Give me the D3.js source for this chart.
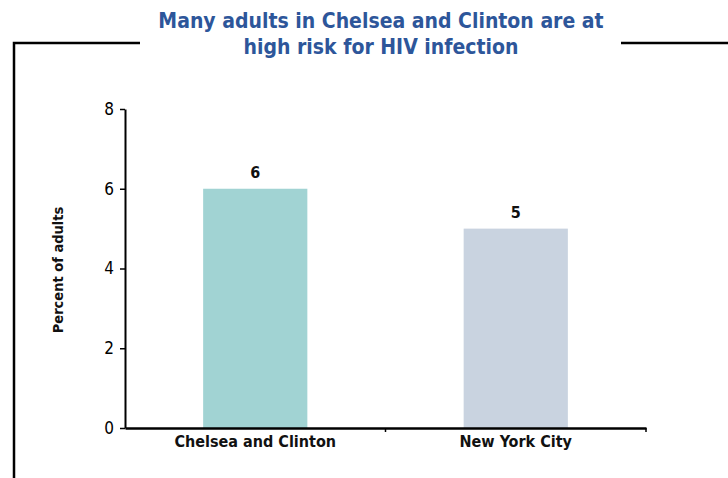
<!DOCTYPE html>
<html>
<head>
<meta charset="utf-8">
<script src="https://cdn.jsdelivr.net/npm/d3@7/dist/d3.min.js"></script>
<style>
  html, body { margin: 0; padding: 0; background: #fff; }
  svg { display: block; }
</style>
</head>
<body>
<svg id="chart" width="728" height="478"></svg>
<script>
const categories = ["Chelsea and Clinton", "New York City"];
const values = [6, 5];
const barColors = ["#A1D3D3", "#C9D3E0"];
const yTicks = [0, 2, 4, 6, 8];
const titleLines = ["Many adults in Chelsea and Clinton are at", "high risk for HIV infection"];

const svg = d3.select("#chart");
const font = "'DejaVu Sans Condensed', 'DejaVu Sans', sans-serif";

// Frame around the chart with a gap for the title
const frame = svg.append("g").attr("stroke", "#000").attr("stroke-width", 2.5).attr("fill", "none");
frame.append("path").attr("d", "M14,478 V43 H140");
frame.append("path").attr("d", "M621,43 H728");

// Title
const title = svg.append("text")
  .attr("text-anchor", "middle")
  .attr("font-family", font)
  .attr("font-weight", "bold")
  .attr("font-size", 21)
  .attr("fill", "#2D569A");
titleLines.forEach((t, i) => {
  title.append("tspan").attr("x", 381).attr("y", 28 + i * 26).text(t);
});

const x = d3.scaleBand().domain(categories).range([125, 646]).padding(0);
const y = d3.scaleLinear().domain([0, 8]).range([428, 109]);
const barFrac = 0.4;

// Bars
svg.append("g").selectAll("rect")
  .data(categories)
  .join("rect")
  .attr("x", d => x(d) + x.bandwidth() * (1 - barFrac) / 2)
  .attr("width", x.bandwidth() * barFrac)
  .attr("y", (d, i) => y(values[i]))
  .attr("height", (d, i) => y(0) - y(values[i]))
  .attr("fill", (d, i) => barColors[i]);

// Value labels
svg.append("g").selectAll("text")
  .data(categories)
  .join("text")
  .attr("x", d => x(d) + x.bandwidth() / 2)
  .attr("y", (d, i) => y(values[i]) - 11)
  .attr("text-anchor", "middle")
  .attr("font-family", font)
  .attr("font-weight", "bold")
  .attr("font-size", 16)
  .attr("fill", "#111")
  .text((d, i) => values[i]);

// Y axis
const yAxis = svg.append("g")
  .attr("transform", "translate(125,0)")
  .call(d3.axisLeft(y).tickValues(yTicks).tickSize(5).tickSizeOuter(0).tickPadding(6));
yAxis.select(".domain").attr("stroke", "#000").attr("stroke-width", 2);
yAxis.selectAll(".tick line").attr("stroke", "#000").attr("stroke-width", 1.5);
yAxis.selectAll(".tick text")
  .attr("font-family", font)
  .attr("font-size", 17)
  .attr("fill", "#000");

// X axis
const xAxis = svg.append("g")
  .attr("transform", "translate(0,428)")
  .call(d3.axisBottom(x).tickSize(0).tickPadding(8));
xAxis.select(".domain").attr("stroke", "#000").attr("stroke-width", 2.5);
xAxis.selectAll(".tick text")
  .attr("font-family", font)
  .attr("font-weight", "bold")
  .attr("font-size", 16)
  .attr("fill", "#111");
// Category separators
xAxis.selectAll(".sep")
  .data([x(categories[1]), 646])
  .join("line")
  .attr("x1", d => d).attr("x2", d => d)
  .attr("y1", 0).attr("y2", 4)
  .attr("stroke", "#000").attr("stroke-width", 1.5);

// Y axis title
svg.append("text")
  .attr("transform", "translate(63,270) rotate(-90)")
  .attr("text-anchor", "middle")
  .attr("font-family", font)
  .attr("font-weight", "bold")
  .attr("font-size", 14.5)
  .attr("fill", "#111")
  .text("Percent of adults");
</script>
</body>
</html>
